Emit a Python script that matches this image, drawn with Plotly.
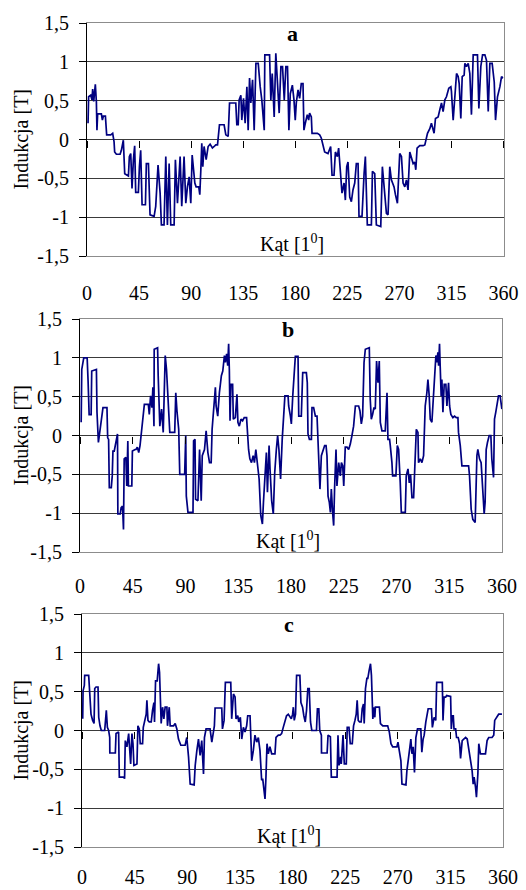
import plotly.graph_objects as go

# ---------------- data ----------------
a_angle = [0.9, 1.4, 3.2, 4.3, 4.9, 5.8, 7.2, 8.1, 8.6, 9.2, 12.4, 13.3, 14.1, 15.9, 17.0, 20.5, 22.2, 23.4, 23.9, 25.4,
           28.6, 29.7, 31.4, 32.6, 35.8, 36.6, 37.8, 38.9, 40.1, 41.2, 42.1, 44.4, 45.3, 46.4, 47.6, 50.5, 51.3, 53.1, 54.5, 58.0,
           59.4, 61.4, 63.2, 64.3, 66.6, 68.1, 69.5, 71.0, 72.4, 75.3, 76.4, 78.2, 80.5, 81.9, 83.9, 85.4, 86.8, 88.3, 89.7, 90.9,
           93.2, 94.3, 96.6, 97.5, 98.4, 99.2, 100.1, 101.2, 103.0, 104.7, 106.4, 108.4, 109.9, 111.3, 112.8, 113.6, 114.5, 118.5, 120.0, 122.0,
           123.2, 128.6, 129.5, 130.7, 131.5, 133.0, 133.8, 135.3, 136.7, 138.2, 139.3, 140.5, 141.6, 143.1, 144.5, 146.0, 148.0, 149.7, 151.1, 153.2,
           153.7, 157.8, 158.9, 160.1, 161.8, 163.2, 164.7, 166.1, 167.6, 169.0, 170.5, 171.9, 173.3, 174.5, 175.7, 176.8, 177.5, 178.9, 180.0, 180.9,
           182.4, 183.8, 185.2, 186.7, 187.5, 188.7, 190.4, 191.6, 192.4, 193.9, 194.5, 199.1, 201.1, 202.5, 204.0, 205.4, 208.3, 210.6, 211.8, 213.5,
           214.7, 216.4, 217.5, 219.3, 220.4, 222.2, 223.3, 224.5, 225.6, 227.1, 228.5, 229.9, 231.4, 232.8, 234.3, 235.1, 237.7, 239.5, 240.6, 242.3,
           245.8, 246.7, 248.7, 250.1, 253.9, 255.3, 257.3, 258.8, 260.2, 261.7, 263.1, 265.4, 266.6, 268.3, 270.3, 271.8, 273.2, 274.7, 276.1, 277.5,
           279.0, 280.4, 281.9, 283.3, 284.2, 285.3, 287.6, 290.5, 292.0, 294.3, 296.3, 297.7, 299.2, 300.0, 301.2, 303.5, 304.9, 306.4, 307.8, 309.3,
           310.7, 311.6, 312.7, 314.5, 315.0, 316.5, 317.9, 319.4, 320.8, 321.7, 323.1, 324.3, 326.0, 326.6, 328.0, 329.5, 330.9, 332.3, 333.8, 337.5,
           338.7, 340.4, 341.9, 343.9, 345.3, 346.8, 348.2, 350.2, 352.0, 353.1, 354.8, 356.9, 358.3, 359.7]
a_ind = [0.21, 0.55, 0.57, 0.51, 0.65, 0.49, 0.71, 0.49, 0.12, 0.33, 0.33, 0.25, 0.30, 0.30, 0.06, 0.06, 0.08, -0.03, -0.16, -0.19,
         -0.19, -0.14, -0.01, -0.44, -0.47, -0.22, -0.18, -0.63, -0.26, -0.08, -0.68, -0.68, -0.35, -0.14, -0.84, -0.84, -0.31, -0.31, -0.97, -0.99,
         -0.86, -0.33, -0.69, -1.10, -1.10, -0.22, -1.10, -0.31, -1.10, -1.10, -0.26, -0.82, -0.22, -0.86, -0.22, -0.82, -0.61, -0.48, -0.82, -0.20,
         -0.56, -0.61, -0.61, -0.71, -0.39, -0.05, -0.35, -0.09, -0.26, -0.09, -0.06, -0.11, -0.09, -0.07, -0.07, 0.02, 0.19, 0.19, 0.06, 0.04,
         0.47, 0.47, 0.19, 0.19, 0.51, 0.57, 0.25, 0.53, 0.21, 0.68, 0.12, 0.79, 0.47, 0.77, 0.12, 0.98, 0.98, 0.68, 0.51, 0.12,
         1.09, 1.09, 0.51, 0.85, 0.29, 1.11, 0.72, 0.34, 0.94, 0.94, 0.51, 0.94, 0.94, 0.12, 0.59, 0.68, 0.70, 0.51, 0.25, 0.47,
         0.64, 0.53, 0.72, 0.72, 0.12, 0.21, 0.32, 0.25, 0.34, 0.29, 0.08, 0.08, 0.06, 0.02, -0.09, -0.16, -0.18, -0.09, -0.46, -0.46,
         -0.16, -0.22, -0.11, -0.56, -0.69, -0.56, -0.78, -0.35, -0.29, -0.74, -0.80, -0.65, -0.56, -0.31, -0.31, -0.99, -0.99, -0.44, -0.22, -1.10,
         -1.10, -0.41, -0.44, -1.10, -1.12, -0.35, -0.65, -0.95, -0.97, -0.35, -0.52, -0.61, -0.71, -0.82, -0.18, -0.22, -0.56, -0.61, -0.52, -0.65,
         -0.16, -0.22, -0.31, -0.29, -0.39, -0.11, -0.08, -0.08, -0.07, 0.08, 0.14, 0.21, 0.14, 0.08, 0.27, 0.29, 0.38, 0.47, 0.36, 0.51,
         0.55, 0.59, 0.66, 0.68, 0.62, 0.25, 0.51, 0.85, 0.81, 0.72, 0.27, 0.81, 0.83, 0.98, 0.94, 0.98, 0.85, 0.32, 1.09, 1.09,
         0.40, 0.94, 1.09, 1.09, 1.02, 0.36, 0.98, 0.98, 0.74, 0.25, 0.55, 0.68, 0.81, 0.79]

b_angle = [1.0, 1.5, 3.2, 6.1, 6.9, 7.8, 9.5, 10.0, 14.0, 14.5, 15.7, 17.4, 18.2, 19.6, 23.0, 23.6, 24.4, 25.0, 26.7, 27.5,
           28.1, 29.2, 30.6, 32.0, 32.3, 34.3, 35.1, 36.3, 37.1, 37.7, 39.1, 39.9, 40.8, 41.3, 44.2, 44.7, 47.0, 47.8, 48.9, 50.1,
           51.2, 52.6, 53.5, 54.9, 58.3, 59.1, 60.2, 61.4, 62.2, 63.1, 63.3, 66.2, 66.7, 68.1, 69.6, 71.0, 71.8, 72.7, 73.8, 75.2,
           76.6, 80.8, 81.7, 82.8, 84.2, 85.1, 89.3, 90.2, 90.7, 92.1, 96.4, 96.9, 98.1, 98.6, 100.6, 102.0, 103.4, 104.3, 106.2, 107.6,
           109.1, 110.5, 111.9, 112.7, 113.9, 115.5, 116.1, 117.5, 118.9, 120.6, 121.8, 123.2, 124.0, 125.1, 126.0, 126.8, 127.4, 128.0, 128.8, 130.2,
           130.8, 132.5, 133.9, 134.7, 135.9, 137.3, 138.7, 140.1, 142.1, 142.9, 143.8, 144.9, 146.3, 147.7, 148.8, 150.0, 151.4, 152.8, 154.2, 155.6,
           156.5, 157.9, 159.0, 159.9, 161.3, 162.1, 163.5, 164.9, 166.1, 167.5, 168.6, 169.7, 171.1, 172.5, 173.9, 174.8, 177.5, 178.0, 179.5, 180.3,
           181.5, 182.9, 183.7, 186.0, 186.6, 188.8, 190.0, 193.1, 193.9, 194.5, 195.7, 197.4, 197.9, 199.3, 200.8, 202.2, 203.6, 204.7, 205.9, 207.3,
           208.7, 209.9, 210.7, 211.6, 212.7, 213.6, 214.4, 215.5, 216.4, 217.2, 218.4, 219.2, 220.7, 222.1, 223.0, 224.1, 225.0, 226.3, 227.8, 229.2,
           230.6, 232.0, 233.4, 234.9, 237.7, 238.8, 240.0, 241.1, 242.3, 243.4, 246.8, 247.6, 248.5, 249.6, 250.8, 251.9, 253.0, 254.2, 255.3, 256.2,
           257.6, 260.4, 261.9, 262.7, 264.1, 264.7, 265.6, 266.1, 266.7, 269.5, 270.7, 271.8, 273.2, 274.1, 277.5, 278.3, 279.8, 280.9, 282.0, 283.2,
           284.6, 286.0, 286.9, 288.3, 288.8, 290.3, 291.7, 293.1, 294.5, 295.9, 296.8, 297.9, 298.8, 300.2, 301.6, 302.5, 303.6, 304.5, 305.3, 305.9,
           306.7, 307.3, 308.1, 308.7, 309.6, 310.7, 312.1, 313.0, 314.4, 315.3, 316.4, 318.1, 319.5, 321.0, 322.4, 322.9, 324.4, 325.8, 331.5, 332.3,
           333.7, 335.1, 337.1, 338.6, 339.4, 340.8, 342.2, 343.7, 344.8, 345.6, 346.5, 347.6, 349.1, 350.5, 351.3, 352.8, 353.6, 354.7, 355.6, 357.0,
           358.4, 359.9]
b_ind = [0.17, 0.85, 1.00, 1.00, 0.70, 0.27, 0.27, 0.83, 0.85, 0.30, -0.09, 0.12, 0.23, 0.36, 0.36, -0.03, -0.05, -0.67, -0.67, -0.52,
         -0.20, -0.20, -0.09, 0.02, -1.01, -1.01, -0.93, -0.91, -1.21, -0.30, -0.28, -0.65, -0.07, -0.65, -0.65, -0.20, -0.18, -0.18, -0.15, -0.22,
         -0.13, 0.08, 0.25, 0.40, 0.40, 0.27, 0.51, 0.36, 0.62, 0.12, 1.11, 1.13, 0.77, 0.12, 0.34, 0.04, 0.51, 1.03, 0.85, 0.47,
         0.04, 0.04, 0.55, 0.30, 0.08, -0.50, -0.50, 0.00, -0.78, -0.99, -0.99, -0.07, -0.05, -0.82, -0.84, -0.18, -0.84, -0.26, -0.18, 0.06,
         -0.22, -0.35, -0.35, 0.08, 0.38, 0.62, 0.38, 0.25, 0.55, 0.77, 0.83, 1.03, 0.94, 1.05, 0.90, 1.18, 0.85, 0.19, 0.66, 0.66,
         0.21, 0.23, 0.53, 0.17, 0.12, 0.21, 0.19, 0.23, 0.23, 0.02, -0.18, -0.30, -0.35, -0.26, -0.35, -0.18, -0.35, -0.56, -1.03, -1.14,
         -0.86, -0.52, -0.22, -0.73, -0.13, -0.43, -0.84, -1.01, -0.48, -0.18, 0.00, -0.18, -0.56, -0.05, 0.34, 0.51, 0.51, 0.38, 0.25, 0.15,
         0.51, 0.85, 1.02, 1.02, 0.25, 0.25, 0.81, 0.81, 0.68, 0.02, -0.05, -0.05, 0.36, 0.36, 0.25, 0.25, -0.30, -0.69, -0.26, -0.18,
         -0.13, -0.13, -0.26, -0.78, -0.86, -0.99, -0.69, -0.99, -1.16, -0.67, -0.18, -0.65, -0.35, -0.52, -0.35, -0.39, -0.65, -0.15, -0.15, -0.18,
         -0.11, 0.00, 0.12, 0.38, 0.38, 0.32, 0.15, 0.25, 0.94, 1.11, 1.13, 0.47, 0.21, 0.27, 0.36, 0.34, 0.96, 0.68, 0.96, 0.17,
         0.06, 0.06, 0.55, -0.05, -0.05, -0.13, -0.26, -0.35, -0.52, -0.52, -0.13, -0.18, -0.61, -0.99, -0.99, -0.52, -0.43, -0.61, -0.50, -0.80,
         -0.80, -0.35, 0.08, 0.04, -0.35, -0.30, -0.35, -0.26, 0.38, 0.55, 0.72, 0.51, 0.21, 0.17, 0.47, 0.77, 1.03, 0.94, 1.07, 0.90,
         1.18, 0.88, 0.51, 0.72, 0.30, 0.66, 0.66, 0.38, 0.68, 0.38, 0.27, 0.23, 0.25, 0.23, 0.23, 0.04, -0.13, -0.39, -0.39, -0.52,
         -0.95, -1.08, -1.12, -0.26, -0.18, -0.30, -0.35, -0.73, -1.01, -0.86, -0.18, -0.09, 0.00, 0.00, -0.30, -0.54, 0.21, 0.30, 0.38, 0.51,
         0.51, 0.34]

c_angle = [0.6, 0.9, 2.0, 2.3, 5.7, 6.6, 7.7, 9.1, 10.3, 10.9, 12.0, 13.7, 14.3, 15.4, 16.5, 19.4, 20.0, 20.8, 21.7, 22.8,
           23.7, 23.8, 28.5, 29.1, 31.3, 31.9, 35.6, 36.4, 37.0, 38.4, 39.9, 40.7, 41.6, 42.7, 43.6, 44.4, 47.0, 47.8, 49.0, 49.8,
           51.8, 52.4, 53.5, 54.9, 55.5, 56.4, 57.5, 59.2, 60.3, 61.5, 62.0, 62.9, 64.3, 65.5, 66.3, 66.9, 67.7, 68.9, 70.0, 71.1,
           72.6, 73.1, 74.6, 75.4, 78.3, 79.7, 81.1, 82.5, 84.5, 88.2, 89.6, 91.1, 92.5, 95.9, 96.8, 98.2, 99.6, 101.0, 102.4, 103.9,
           104.7, 106.1, 109.5, 111.0, 112.4, 113.2, 113.8, 119.5, 120.1, 121.5, 122.6, 127.2, 128.0, 129.5, 130.9, 131.7, 133.2, 134.0, 135.4, 136.6,
           138.0, 139.4, 140.8, 141.7, 143.7, 144.2, 145.1, 146.5, 147.9, 149.4, 150.8, 152.2, 153.6, 154.5, 155.6, 156.5, 157.3, 158.2, 159.3, 160.7,
           162.2, 165.0, 165.9, 167.9, 169.3, 170.7, 172.1, 173.5, 174.9, 176.4, 177.8, 179.0, 180.1, 180.7, 181.5, 182.6, 183.5, 186.3, 187.2, 188.6,
           189.7, 190.9, 192.0, 193.1, 194.3, 195.4, 196.5, 200.5, 201.3, 202.5, 203.3, 204.7, 204.8, 209.6, 210.4, 212.4, 213.2, 218.1, 218.9, 219.8,
           221.2, 221.7, 223.2, 224.3, 226.0, 226.8, 228.3, 229.4, 231.1, 232.2, 233.4, 234.5, 235.3, 236.2, 237.3, 238.7, 239.6, 240.7, 241.3, 242.4,
           243.6, 244.4, 245.5, 246.7, 247.5, 248.1, 248.7, 249.5, 250.4, 250.9, 254.3, 255.2, 257.2, 261.4, 262.8, 264.2, 265.7, 269.3, 270.2, 271.3,
           272.7, 273.6, 277.0, 277.8, 279.0, 280.4, 281.2, 282.1, 283.2, 284.3, 285.5, 286.9, 289.7, 290.6, 291.7, 292.6, 294.0, 296.0, 298.8, 299.6,
           301.1, 302.5, 303.3, 308.1, 308.7, 309.6, 311.0, 311.8, 315.2, 315.8, 316.6, 317.5, 318.1, 319.5, 320.3, 321.7, 322.9, 323.7, 325.1, 326.6,
           328.0, 329.4, 330.8, 332.2, 333.6, 334.5, 335.3, 336.5, 337.3, 338.5, 339.3, 340.7, 345.0, 346.4, 347.8, 350.6, 352.1, 352.9, 354.9, 356.3,
           359.1]
c_ind = [0.15, 0.51, 0.58, 0.71, 0.71, 0.39, 0.21, 0.13, 0.09, 0.54, 0.56, 0.56, 0.17, 0.06, 0.00, 0.00, 0.13, 0.26, 0.04, 0.00,
         -0.09, -0.29, -0.29, -0.04, -0.02, -0.60, -0.60, -0.62, -0.13, -0.21, -0.04, -0.21, -0.43, -0.04, -0.17, -0.45, -0.43, 0.06, 0.02, -0.17,
         -0.17, 0.04, 0.13, 0.21, 0.39, 0.13, 0.11, 0.11, 0.26, 0.36, 0.11, 0.64, 0.64, 0.86, 0.75, 0.43, 0.09, 0.30, 0.15, 0.30,
         0.30, 0.06, 0.30, 0.06, 0.06, 0.09, 0.02, -0.11, -0.19, -0.19, -0.09, -0.34, -0.69, -0.70, -0.45, -0.26, -0.11, -0.32, -0.13, -0.56,
         -0.09, 0.02, 0.02, -0.15, -0.04, 0.06, 0.29, 0.29, 0.02, 0.13, 0.62, 0.62, 0.15, 0.47, 0.43, 0.15, 0.19, 0.11, 0.17, -0.11,
         0.04, -0.02, 0.06, 0.19, 0.19, -0.06, -0.39, -0.26, -0.06, -0.15, -0.09, -0.26, -0.64, -0.62, -0.79, -0.88, -0.60, -0.17, -0.30, -0.21,
         -0.30, -0.30, -0.09, -0.06, -0.06, -0.04, 0.04, 0.11, 0.19, 0.21, 0.17, 0.15, 0.21, 0.30, 0.13, 0.21, 0.71, 0.71, 0.36, 0.30,
         0.19, 0.11, 0.26, 0.54, 0.54, 0.11, 0.00, 0.00, 0.28, 0.28, 0.00, -0.06, -0.29, -0.29, -0.06, -0.08, -0.60, -0.60, -0.06, -0.45,
         -0.34, -0.43, -0.06, -0.43, -0.43, 0.04, 0.04, -0.17, -0.17, 0.06, 0.13, 0.21, 0.39, 0.13, 0.11, 0.11, 0.28, 0.34, 0.09, 0.54,
         0.67, 0.67, 0.77, 0.86, 0.71, 0.43, 0.15, 0.30, 0.17, 0.30, 0.30, 0.09, 0.06, 0.06, -0.02, -0.17, -0.21, -0.21, -0.15, -0.26,
         -0.39, -0.69, -0.70, -0.52, -0.34, -0.21, -0.11, -0.30, -0.21, -0.54, -0.09, 0.02, 0.02, -0.28, -0.11, -0.06, 0.11, 0.28, 0.28, 0.04,
         0.17, 0.13, 0.62, 0.62, 0.13, 0.43, 0.43, 0.45, 0.44, 0.02, 0.19, 0.19, 0.02, 0.02, -0.09, -0.09, -0.17, -0.36, -0.13, -0.11,
         -0.09, -0.11, -0.26, -0.43, -0.52, -0.69, -0.60, -0.73, -0.86, -0.56, -0.17, -0.30, -0.30, -0.13, -0.09, -0.09, -0.06, 0.13, 0.17, 0.21,
         0.21]

panel_letters = ["a", "b", "c"]
x_ticks = [0, 45, 90, 135, 180, 225, 270, 315, 360]
y_ticks = [-1.5, -1.0, -0.5, 0.0, 0.5, 1.0, 1.5]
y_ticktext = ["-1,5", "-1", "-0,5", "0", "0,5", "1", "1,5"]
x_title = "Kąt [1<sup>0</sup>]"
y_title = "Indukcja [T]"

# ---------------- layout geometry ----------------
W, H = 526, 890
panels = [
    dict(angle=a_angle, ind=a_ind, left=87, right=503.5, top=23, bottom=256, standoff=19),
    dict(angle=b_angle, ind=b_ind, left=80, right=502, top=319, bottom=552, standoff=16),
    dict(angle=c_angle, ind=c_ind, left=82, right=503, top=614, bottom=847, standoff=12),
]

FONT = "Liberation Serif"
LINE = "#000080"
GRID = "#3a3a3a"
BORDER = "#8c8c8c"

fig = go.Figure()
layout = dict(
    width=W, height=H,
    margin=dict(l=0, r=0, t=0, b=0, pad=0, autoexpand=False),
    paper_bgcolor="white", plot_bgcolor="white",
    showlegend=False,
    font=dict(family=FONT, size=20, color="black"),
    separators=", ",
)
annotations = []

for i, p in enumerate(panels):
    n = i + 1
    xd = [p["left"] / W, p["right"] / W]
    yd = [1 - p["bottom"] / H, 1 - p["top"] / H]
    ymid = (yd[0] + yd[1]) / 2
    xname = f"x{n}" if n > 1 else "x"
    yname = f"y{n}" if n > 1 else "y"
    tick_n = n + 3
    ry_n = n + 3

    # main x axis: labels only, below the plot
    layout[f"xaxis{n}" if n > 1 else "xaxis"] = dict(
        domain=xd, anchor=yname, range=[0, 360],
        tickvals=x_ticks, ticks="", showgrid=False, zeroline=False,
        showline=True, linecolor=BORDER, linewidth=1, mirror=True,
        tickfont=dict(family=FONT, size=20, color="black"),
        ticklabelstandoff=p["standoff"],
    )
    # tick marks crossing the zero line
    layout[f"xaxis{tick_n}"] = dict(
        domain=xd, overlaying=xname, anchor="free", position=ymid,
        range=[0, 360], tickvals=x_ticks, ticks="outside", ticklen=7, tickwidth=1,
        tickcolor="black", showticklabels=False, showgrid=False, zeroline=False, showline=False,
    )
    layout[f"yaxis{n}" if n > 1 else "yaxis"] = dict(
        domain=yd, anchor=xname, range=[-1.5, 1.5],
        tickvals=y_ticks, ticktext=y_ticktext,
        ticks="outside", ticklen=7, tickwidth=1, tickcolor="black",
        showline=True, linecolor="black", linewidth=1,
        showgrid=True, gridcolor=GRID, gridwidth=1, zeroline=False,
        tickfont=dict(family=FONT, size=20, color="black"),
        ticklabelstandoff=6,
    )
    # right-hand grey border
    layout[f"yaxis{ry_n}"] = dict(
        domain=yd, overlaying=yname, anchor=xname, side="right",
        range=[-1.5, 1.5], showline=True, linecolor=BORDER, linewidth=1,
        ticks="", showticklabels=False, showgrid=False, zeroline=False,
    )

    # the measured curve
    fig.add_trace(go.Scatter(
        x=p["angle"], y=p["ind"], mode="lines",
        line=dict(color=LINE, width=1.7),
        xaxis=xname, yaxis=yname, hoverinfo="skip",
    ))
    # transparent copies so the helper axes get drawn
    fig.add_trace(go.Scatter(
        x=p["angle"], y=p["ind"], mode="lines", opacity=0,
        line=dict(color=LINE, width=0.1),
        xaxis=f"x{tick_n}", yaxis=yname, hoverinfo="skip",
    ))
    fig.add_trace(go.Scatter(
        x=p["angle"], y=p["ind"], mode="lines", opacity=0,
        line=dict(color=LINE, width=0.1),
        xaxis=xname, yaxis=f"y{ry_n}", hoverinfo="skip",
    ))

    cx = (p["left"] + p["right"]) / 2 / W - 0.006
    annotations.append(dict(
        text=f"<b>{panel_letters[i]}</b>", xref="paper", yref="paper",
        x=cx, y=1 - (p["top"] + 10) / H, xanchor="center", yanchor="middle",
        showarrow=False, font=dict(family=FONT, size=22, color="black"),
    ))
    annotations.append(dict(
        text=x_title, xref="paper", yref="paper",
        x=cx, y=1 - (p["bottom"] - 12) / H, xanchor="center", yanchor="middle",
        showarrow=False, font=dict(family=FONT, size=20, color="black"),
    ))
    annotations.append(dict(
        text=y_title, xref="paper", yref="paper", textangle=-90,
        x=21 / W, y=ymid, xanchor="center", yanchor="middle", showarrow=False,
        font=dict(family=FONT, size=20, color="black"),
    ))

layout["annotations"] = annotations
fig.update_layout(**layout)
fig.write_html("out.html")
